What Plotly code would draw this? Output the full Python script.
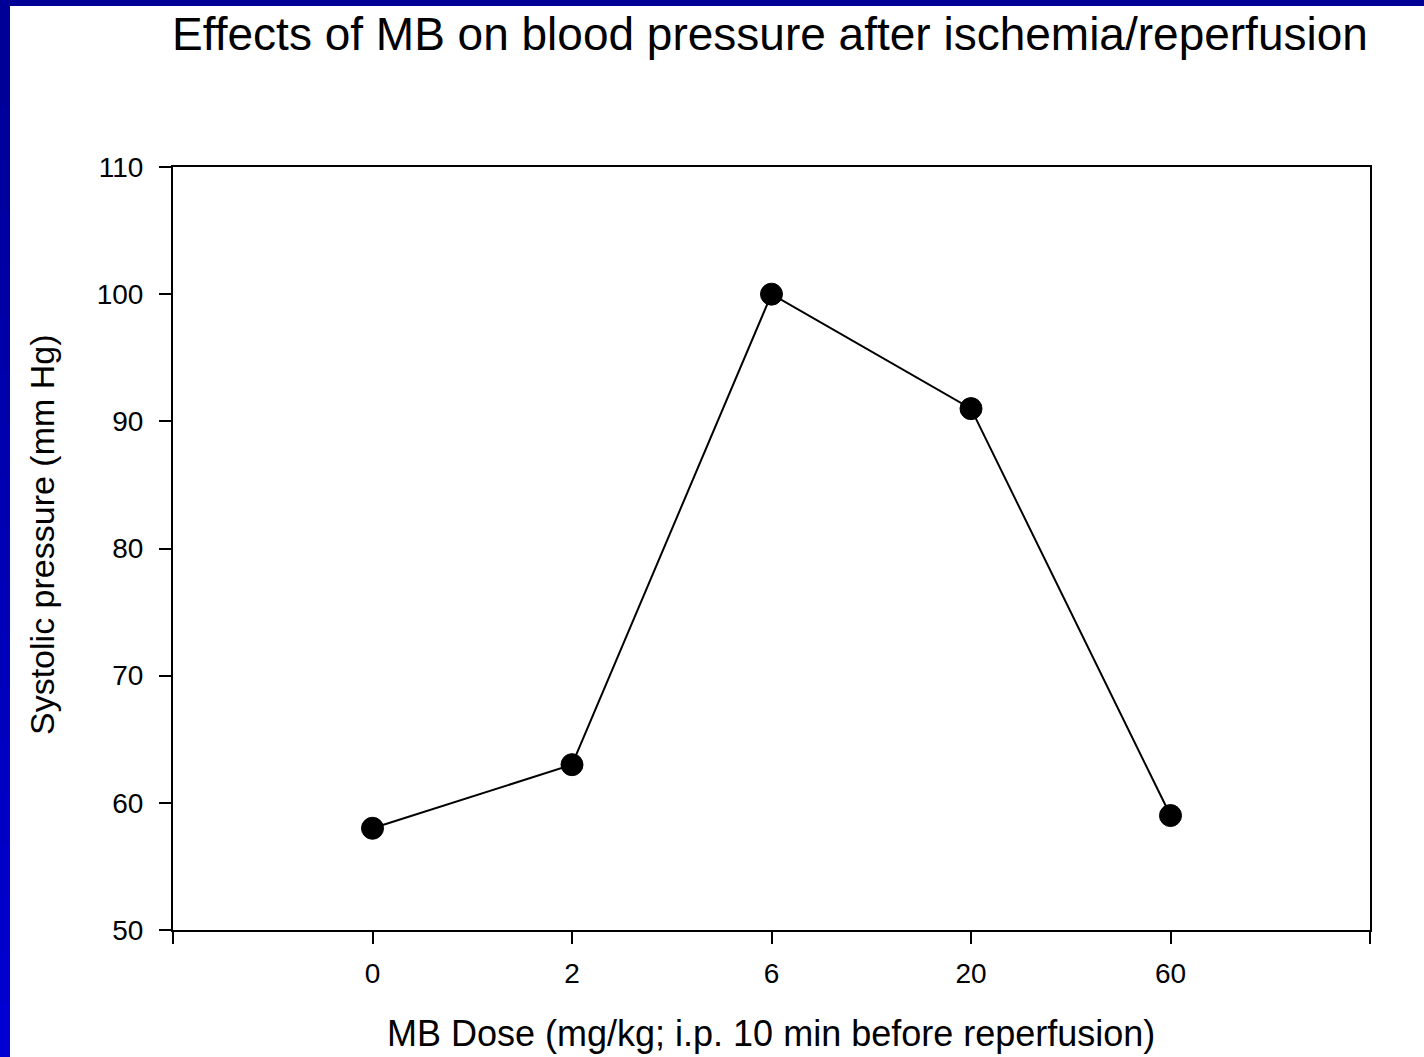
import plotly.graph_objects as go

doses = ["0", "2", "6", "20", "60"]
systolic = [58, 63, 100, 91, 59]
y_ticks = [50, 60, 70, 80, 90, 100, 110]

W, H = 1424, 1057
L, R, T, B = 173, 1370, 167, 930

x_pos = list(range(len(doses)))

fig = go.Figure()
fig.add_trace(go.Scatter(
    x=x_pos, y=systolic, mode="lines+markers",
    line=dict(color="black", width=2),
    marker=dict(color="black", size=22, line=dict(color="black", width=1)),
    showlegend=False,
))

def px_x(p):
    return (p - L) / (R - L)

def px_y(p):
    return (B - p) / (B - T)

shapes = []
# blue frame (left and top) with slight vertical gradient
n = 20
for i in range(n):
    y0 = H * i / n
    y1 = H * (i + 1) / n + 4
    t = i / (n - 1)
    b = int(150 + t * 60)
    shapes.append(dict(type="rect", xref="paper", yref="paper",
                       x0=px_x(0), x1=px_x(10), y0=px_y(y1), y1=px_y(y0),
                       fillcolor=f"rgb(0,0,{b})", line=dict(width=0), layer="above"))
shapes.append(dict(type="rect", xref="paper", yref="paper",
                   x0=px_x(0), x1=px_x(W), y0=px_y(6), y1=px_y(0),
                   fillcolor="rgb(0,0,150)", line=dict(width=0), layer="above"))

annotations = [
    dict(text="MB Dose (mg/kg; i.p. 10 min before reperfusion)",
         xref="paper", yref="paper", x=px_x(771), y=px_y(1033),
         xanchor="center", yanchor="middle", showarrow=False,
         font=dict(size=36, color="black")),
    dict(text="Systolic pressure (mm Hg)",
         xref="paper", yref="paper", x=px_x(42), y=px_y(535),
         xanchor="center", yanchor="middle", showarrow=False, textangle=-90,
         font=dict(size=34, color="black")),
]

fig.update_layout(
    width=W, height=H,
    margin=dict(l=L, r=W - R, t=T, b=H - B, pad=0),
    paper_bgcolor="white", plot_bgcolor="white",
    font=dict(family="Liberation Sans, Arial, sans-serif", color="black"),
    title=dict(text="Effects of MB on blood pressure after ischemia/reperfusion",
               x=770 / W, xanchor="center", y=1 - 34 / H, yanchor="middle",
               yref="container", xref="container",
               font=dict(size=46, color="black")),
    shapes=shapes,
    annotations=annotations,
    xaxis=dict(range=[-1, 5], tickvals=[-1, 0, 1, 2, 3, 4, 5],
               ticktext=[""] + doses + [""],
               showline=True, linecolor="black", linewidth=2, mirror=True,
               ticks="outside", ticklen=12, tickwidth=2, tickcolor="black",
               showgrid=False, zeroline=False, ticklabelstandoff=5,
               tickfont=dict(size=28)),
    yaxis=dict(range=[50, 110], tickvals=y_ticks,
               showline=True, linecolor="black", linewidth=2, mirror=True,
               ticks="outside", ticklen=12, tickwidth=2, tickcolor="black",
               showgrid=False, zeroline=False, ticklabelstandoff=10,
               tickfont=dict(size=28)),
)

fig.write_html("out.html", config={"displayModeBar": False},
               post_script="document.body.style.margin='0';document.body.style.overflow='hidden';")
